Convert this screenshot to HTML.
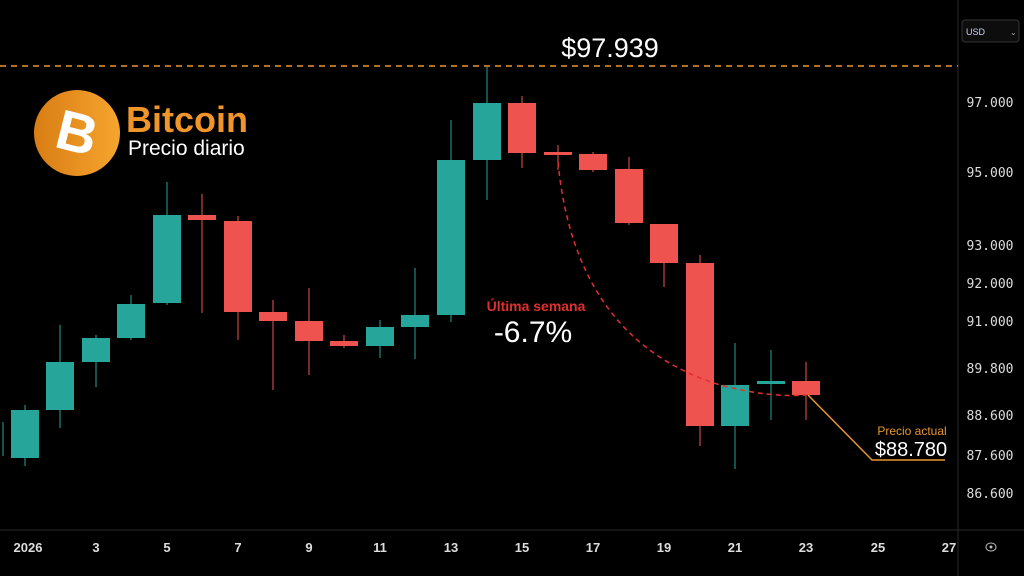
<!DOCTYPE html>
<html><head><meta charset="utf-8"><style>
body{margin:0;background:#000;width:1024px;height:576px;overflow:hidden;font-family:"Liberation Sans",sans-serif}
</style></head><body>
<svg width="1024" height="576" xmlns="http://www.w3.org/2000/svg" style="position:absolute;left:0;top:0">
<defs><linearGradient id="g" x1="0" x2="1"><stop offset="0" stop-color="#d97d14"/><stop offset="1" stop-color="#f5a52e"/></linearGradient></defs>
<rect width="1024" height="576" fill="#000"/>
<line x1="958" y1="0" x2="958" y2="576" stroke="#2a2a2a"/>
<line x1="0" y1="530" x2="1024" y2="530" stroke="#2a2a2a"/>
<line x1="0" y1="66" x2="958" y2="66" stroke="#e8962e" stroke-width="1.5" stroke-dasharray="6,5"/>
<text x="610" y="57" fill="#fff" font-size="27" text-anchor="middle">$97.939</text>
<rect x="962" y="20" width="57" height="22" rx="3" fill="#0d0d0d" stroke="#333"/>
<text x="966" y="35" fill="#c8d0ff" font-size="9">USD</text><text x="1010" y="35" fill="#aaa" font-size="8">⌄</text>
<g fill="#ddd" font-size="13" font-family="DejaVu Sans Mono,monospace" text-anchor="middle">
<text x="990" y="107">97.000</text><text x="990" y="177">95.000</text><text x="990" y="250">93.000</text><text x="990" y="288">92.000</text><text x="990" y="326">91.000</text><text x="990" y="373">89.800</text><text x="990" y="420">88.600</text><text x="990" y="460">87.600</text><text x="990" y="498">86.600</text>
</g>
<g fill="#ddd" font-size="13" font-weight="bold" text-anchor="middle">
<text x="28" y="552">2026</text><text x="96" y="552">3</text><text x="167" y="552">5</text><text x="238" y="552">7</text><text x="309" y="552">9</text><text x="380" y="552">11</text><text x="451" y="552">13</text><text x="522" y="552">15</text><text x="593" y="552">17</text><text x="664" y="552">19</text><text x="735" y="552">21</text><text x="806" y="552">23</text><text x="878" y="552">25</text><text x="949" y="552">27</text>
</g>
<ellipse cx="991" cy="547" rx="5" ry="4" fill="none" stroke="#bbb"/><circle cx="991" cy="547" r="1.5" fill="#bbb"/>
<g id="c"></g>
<path d="M558 162 Q575 340 720 385 Q770 398 806 395" fill="none" stroke="#e02f2f" stroke-width="1.5" stroke-dasharray="5,4"/>
<polyline points="808,395 872,460 945,460" fill="none" stroke="#e8962e" stroke-width="1.5"/>
<text x="912" y="435" fill="#e8962e" font-size="12" text-anchor="middle">Precio actual</text>
<text x="911" y="456" fill="#fff" font-size="20" text-anchor="middle">$88.780</text>
<text x="536" y="311" fill="#e02f2f" font-size="14" font-weight="bold" text-anchor="middle">Última semana</text>
<text x="533" y="342" fill="#fff" font-size="30" text-anchor="middle">-6.7%</text>
<circle cx="77" cy="133" r="43" fill="url(#g)"/>
<text x="77" y="152" fill="#fff" font-size="56" font-weight="bold" text-anchor="middle" transform="rotate(14 77 133)">B</text>
<text x="126" y="132" fill="#f0952a" font-size="36" font-weight="bold">Bitcoin</text>
<text x="128" y="155" fill="#fff" font-size="21">Precio diario</text>
</svg>
<script>
var d=[[25,'g',410,458,405,466],[60,'g',362,410,325,428],[96,'g',338,362,335,387],[131,'g',304,338,295,340],[167,'g',215,303,182,305],[202,'r',215,220,194,313],[238,'r',221,312,216,340],[273,'r',312,321,300,390],[309,'r',321,341,288,375],[344,'r',341,346,335,348],[380,'g',327,346,320,358],[415,'g',315,327,268,359],[451,'g',160,315,120,322],[487,'g',103,160,67,200],[522,'r',103,153,96,168],[558,'r',152,155,145,170],[593,'r',154,170,152,172],[629,'r',169,223,157,225],[664,'r',224,263,224,287],[700,'r',263,426,255,446],[735,'g',385,426,343,469],[771,'g',381,384,350,420],[806,'r',381,395,362,420],[3,'g',420,500,420,460]];
var s='';d.forEach(function(c,i){var col=c[1]=='g'?'#26a69a':'#ef5350';if(i==23){s+='<line x1="3" y1="422" x2="3" y2="456" stroke="#26a69a"/>';return;}
s+='<line x1="'+c[0]+'" y1="'+c[4]+'" x2="'+c[0]+'" y2="'+c[5]+'" stroke="'+col+'"/><rect x="'+(c[0]-14)+'" y="'+c[2]+'" width="28" height="'+Math.max(3,c[3]-c[2])+'" fill="'+col+'"/>';});
document.getElementById('c').innerHTML=s;
</script>
</body></html>
